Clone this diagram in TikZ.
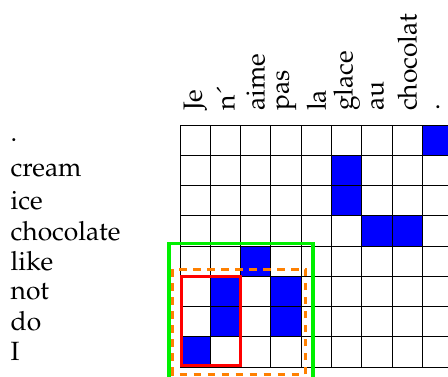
\documentclass[tikz,border=0pt]{standalone}
\usepackage[T1]{fontenc}
\usepackage{mathpazo}
\begin{document}
\begin{tikzpicture}[x=1pt,y=-1pt,
  lbl/.style={inner sep=0pt, font=\fontsize{26.4}{30}\selectfont},
  gridline/.style={black, line width=1pt},
  cellfill/.style={fill=blue},
  greenbox/.style={draw={rgb,255:red,0;green,240;blue,0}, line width=3.5pt},
  orangebox/.style={draw={rgb,255:red,255;green,128;blue,0}, line width=3.4pt, dash pattern=on 7.5pt off 6.5pt},
  redbox/.style={draw=red, line width=3.4pt}]
\useasboundingbox (0,0) rectangle (448,376);
\clip (0,0) rectangle (448,376);
\def\cw{30.33}
\def\ch{30.25}
% blue cells
\foreach \c/\r in {8/0,5/1,5/2,6/3,7/3,2/4,1/5,3/5,1/6,3/6,0/7}
  \fill[cellfill] ({180+\c*\cw},{125+\r*\ch}) rectangle ++(\cw,\ch);
% grid
\foreach \i in {0,...,9}
  \draw[gridline] ({180+\i*\cw},125) -- ({180+\i*\cw},{125+8*\ch});
\foreach \j in {0,...,8}
  \draw[gridline] (180,{125+\j*\ch}) -- ({180+9*\cw},{125+\j*\ch});
% row labels
\foreach \t [count=\j from 0] in {., cream, ice, chocolate, like, not, do, I}
  \node[lbl, anchor=west] (r\j) at (10.5,{125+(\j+0.5)*\ch}) {\t};
% column labels
\foreach \t [count=\i from 0] in {Je, n\'{}, aime, pas, la, glace, au, chocolat, .}
  \node[lbl, rotate=90, anchor=west] (c\i) at ({180+(\i+0.5)*\cw},111) {\t};
% boxes
\draw[greenbox] (169,243.3) rectangle (313,385);
\draw[orangebox] (172.7,269.3) rectangle (305.7,374.3);
\draw[redbox] (181.3,276.7) rectangle (240.3,365.7);
\end{tikzpicture}
\end{document}
